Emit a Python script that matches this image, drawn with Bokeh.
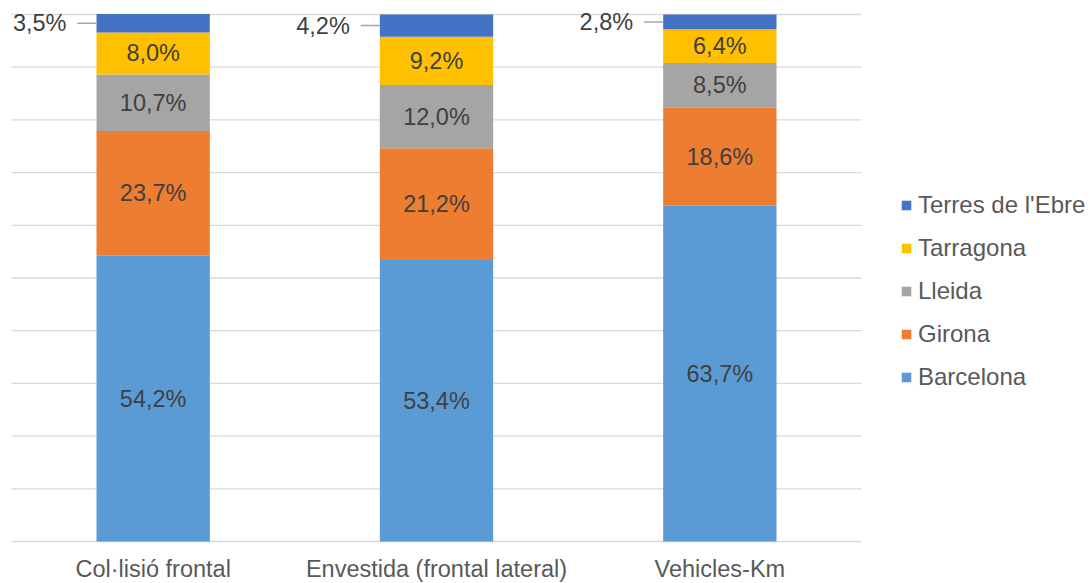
import numpy as np
from bokeh.plotting import figure
from bokeh.models import Range1d, Legend, LegendItem
from bokeh.core.properties import value
from bokeh.embed import file_html
from bokeh.resources import INLINE

categories = ["Col·lisió frontal", "Envestida (frontal lateral)", "Vehicles-Km"]
series_names = ["Barcelona", "Girona", "Lleida", "Tarragona", "Terres de l'Ebre"]
barcelona = [54.2, 53.4, 63.7]
girona = [23.7, 21.2, 18.6]
lleida = [10.7, 12.0, 8.5]
tarragona = [8.0, 9.2, 6.4]
terres = [3.5, 4.2, 2.8]
y_ticks = [0, 10, 20, 30, 40, 50, 60, 70, 80, 90, 100]

colors = ["#5B9BD5", "#ED7D31", "#A5A5A5", "#FFC000", "#4472C4"]
FONT = value("Liberation Sans")
FS = "23.5px"

W, H = 1091, 583
LEFT, TOP, BOTTOM = 11, 14, 541
px_per_x = 850 / 3.0
px_per_y = (BOTTOM - TOP) / 100.0
x0 = -LEFT / px_per_x
x1 = (W - LEFT) / px_per_x
y1 = 100 + TOP / px_per_y
y0 = -(H - BOTTOM) / px_per_y

p = figure(width=W, height=H, output_backend="svg", toolbar_location=None,
           x_range=Range1d(x0, x1), y_range=Range1d(y0, y1),
           min_border=0, min_border_left=0, min_border_right=0,
           min_border_top=0, min_border_bottom=0)
p.axis.visible = False
p.grid.visible = False
p.outline_line_color = None
p.background_fill_color = "white"
p.border_fill_color = "white"

n = len(categories)
xc = np.arange(n) + 0.5
bw = 0.4

# grid lines
p.segment(x0=[0] * len(y_ticks), x1=[n] * len(y_ticks), y0=y_ticks, y1=y_ticks,
          line_color="#D9D9D9", line_width=1.3)

data = [barcelona, girona, lleida, tarragona, terres]
bottom = np.zeros(n)
renderers = []
for name, vals, col in zip(series_names, data, colors):
    vals = np.array(vals, dtype=float)
    top = bottom + vals
    r = p.vbar(x=xc, width=bw, bottom=bottom, top=top, fill_color=col, line_color=None)
    renderers.append((name, r))
    labels = [f"{v:.1f}%".replace(".", ",") for v in vals]
    mid = (bottom + top) / 2
    if name == "Terres de l'Ebre":
        left = xc - bw / 2
        lead = 19 / px_per_x
        p.segment(x0=left - lead, x1=left, y0=mid, y1=mid, line_color="#A6A6A6", line_width=1.5)
        p.text(x=left - lead, y=mid, text=labels, x_offset=-11, text_align="right",
               text_baseline="middle", text_font=FONT, text_font_size=FS, text_color="#404040")
    else:
        p.text(x=xc, y=mid, text=labels, text_align="center", text_baseline="middle",
               text_font=FONT, text_font_size=FS, text_color="#404040")
    bottom = top

# category labels
p.text(x=xc, y=[0] * n, text=categories, y_offset=27, text_align="center",
       text_baseline="middle", text_font=FONT, text_font_size=FS, text_color="#595959")

items = [LegendItem(label=name, renderers=[r]) for name, r in reversed(renderers)]
legend = Legend(items=items, location=(900, 192), orientation="vertical",
                glyph_width=12, glyph_height=12, label_standoff=6,
                label_text_font="Liberation Sans", label_text_font_size="24px",
                label_text_color="#595959", label_height=27, spacing=15,
                padding=0, margin=0, border_line_color=None,
                background_fill_alpha=0)
p.add_layout(legend)

open("out.html", "w").write(file_html(p, INLINE))
